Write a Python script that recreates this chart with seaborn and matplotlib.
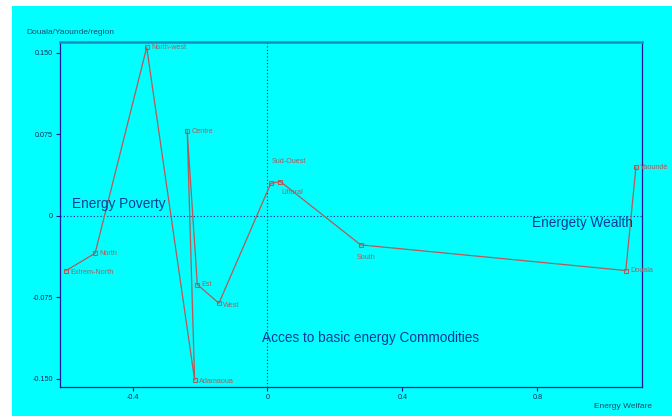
import matplotlib
matplotlib.use("Agg")
import matplotlib.pyplot as plt
import matplotlib.patches as mpatches
import seaborn as sns
import pandas as pd

# Regions in the order the path connects them
regions = ["Extrem-North", "North", "North-west", "Adamaoua", "Centre", "Est",
           "West", "Sud-Ouest", "Littoral", "South", "Douala", "Yaoundé"]
energy_welfare = [-0.598, -0.511, -0.358, -0.216, -0.238, -0.208,
                  -0.144, 0.010, 0.038, 0.276, 1.062, 1.092]
region_axis = [-0.0506, -0.0344, 0.155, -0.151, 0.078, -0.0632,
               -0.0804, 0.030, 0.0316, -0.0267, -0.0503, 0.0448]

x_ticks = [-0.4, 0.0, 0.4, 0.8]
x_tick_labels = ["-0.4", "0", "0.4", "0.8"]
y_ticks = [0.150, 0.075, 0.0, -0.075, -0.150]
y_tick_labels = ["0.150", "0.075", "0", "-0.075", "-0.150"]

df = pd.DataFrame({"region": regions, "x": energy_welfare, "y": region_axis})

sns.set_theme(style="white")
plt.rcParams["font.family"] = ["Liberation Sans", "DejaVu Sans"]

W, H = 672, 416
fig = plt.figure(figsize=(W / 100, H / 100), dpi=100, facecolor="white")
# cyan panel behind everything
fig.patches.append(mpatches.Rectangle((12 / W, 0), 1, 1 - 6 / H, transform=fig.transFigure,
                                      facecolor="#00ffff", edgecolor="none", zorder=-5))

ax = fig.add_axes([60 / W, 1 - 387 / H, (642 - 60) / W, (387 - 42) / H])
ax.set_zorder(2)
ax.set_facecolor("#00ffff")

line_col = "#b85858"
sns.lineplot(data=df, x="x", y="y", sort=False, estimator=None, ax=ax,
             color=line_col, linewidth=0.9, marker="s", markersize=3.2,
             markerfacecolor="none", markeredgecolor=line_col, markeredgewidth=0.8)

ax.set_xlim(-0.615, 1.11)
ax.set_ylim(-0.1575, 0.160)

# reference lines through the origin
ax.axhline(0, color="#1a1a9a", linestyle=(0, (1, 2)), linewidth=0.8, zorder=1)
ax.axvline(0, color="#1a1a9a", linestyle=(0, (1, 2)), linewidth=0.8, zorder=1)

# point labels: offsets in points, alignment
label_pos = {
    "Extrem-North": (3, -1.5, "left", "center"),
    "North": (3, -0.5, "left", "center"),
    "North-west": (3, 0, "left", "center"),
    "Adamaoua": (3, -1, "left", "center"),
    "Centre": (3, 0, "left", "center"),
    "Est": (3, 0, "left", "center"),
    "West": (3, -1.5, "left", "center"),
    "Sud-Ouest": (0.5, 15.5, "left", "center"),
    "Littoral": (0.5, -8, "left", "center"),
    "South": (-2.5, -9, "left", "center"),
    "Douala": (3, 0, "left", "center"),
    "Yaoundé": (3, 0, "left", "center"),
}
for r, x, y in zip(regions, energy_welfare, region_axis):
    dx, dy, ha, va = label_pos[r]
    ax.annotate(r, (x, y), xytext=(dx, dy), textcoords="offset points",
                ha=ha, va=va, fontsize=5.2, color="#b05a5a", annotation_clip=False)

ax.set_xticks(x_ticks)
ax.set_xticklabels(x_tick_labels)
ax.set_yticks(y_ticks)
ax.set_yticklabels(y_tick_labels)
ax.tick_params(axis="both", which="both", direction="out", length=3, width=0.8,
               color="#1a1a9a", labelsize=5.2, labelcolor="#1a2a5a", pad=2,
               left=True, bottom=True)
ax.set_xlabel("")
ax.set_ylabel("")

for side in ["left", "bottom", "right"]:
    ax.spines[side].set_color("#1a1a9a")
    ax.spines[side].set_linewidth(0.9)
ax.spines["top"].set_color("#1590c0")
ax.spines["top"].set_linewidth(1.8)

# annotations in the plotting area
txt_col = "#0b3a9a"
big = 9.8
ax.text(72 / W, 1 - 204 / H, "Energy Poverty", fontsize=big, color=txt_col,
        ha="left", va="center", transform=fig.transFigure)
ax.text(532 / W, 1 - 222.5 / H, "Energety Wealth", fontsize=big, color=txt_col,
        ha="left", va="center", transform=fig.transFigure)
ax.text(262 / W, 1 - 338 / H, "Acces to basic energy Commodities", fontsize=big,
        color=txt_col, ha="left", va="center", transform=fig.transFigure)

# axis titles
fig.text(26 / W, 1 - 33 / H, "Douala/Yaounde/region", fontsize=6.0, color="#1a4a66",
         ha="left", va="center")
fig.text(594 / W, 1 - 407 / H, "Energy Welfare", fontsize=6.0, color="#1a4a66",
         ha="left", va="center")

fig.savefig("out.png", dpi=100, facecolor="white")
